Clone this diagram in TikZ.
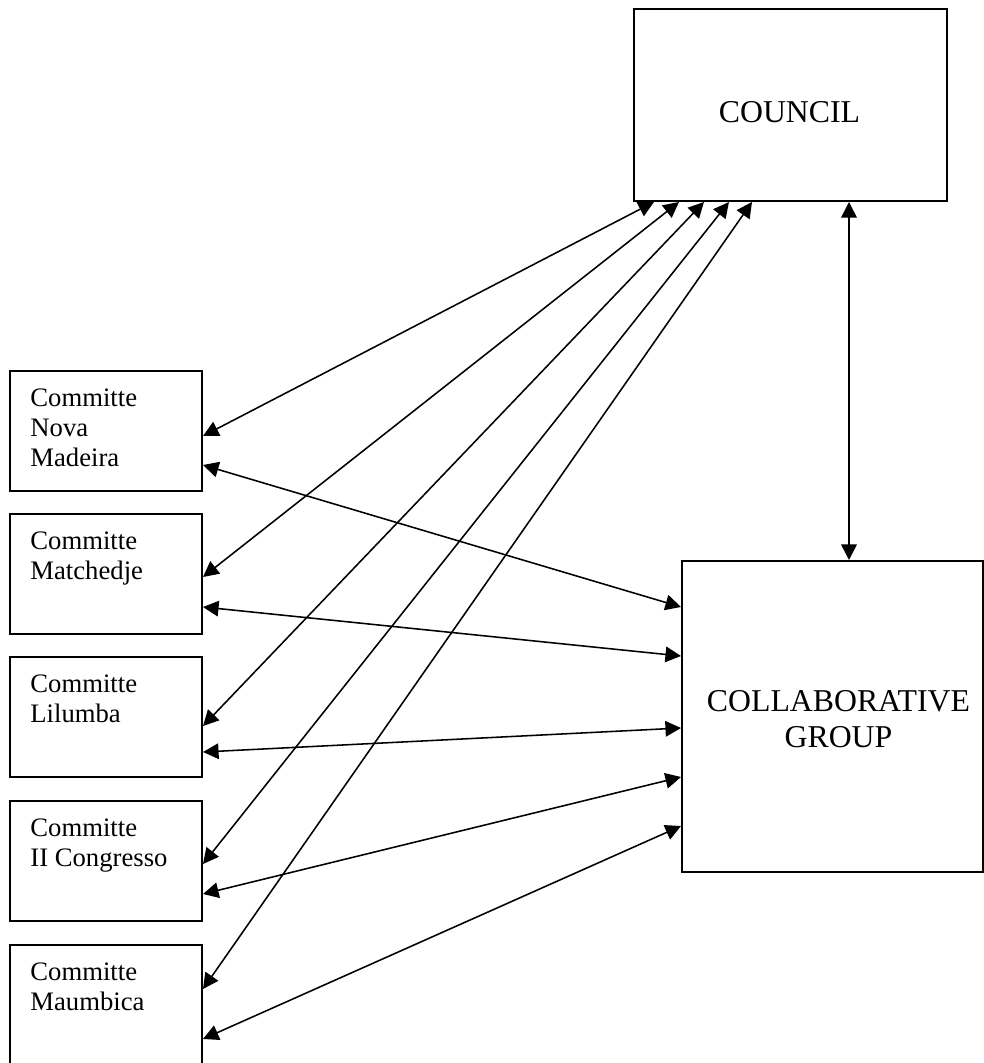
\documentclass[tikz,border=0pt]{standalone}
\usepackage{fontspec}
\setmainfont{Liberation Serif}
\usetikzlibrary{arrows.meta,calc}
\begin{document}
\begin{tikzpicture}[x=0.45pt,y=-0.45pt,
  box/.style={draw,line width=0.9pt,inner sep=0},
  cbox/.style={box,minimum width=86.4pt,minimum height=54pt},
  ctext/.style={anchor=north west,inner sep=0,align=left,font=\fontsize{12}{13.7}\selectfont},
  btext/.style={inner sep=0,align=center,font=\fontsize{14.3}{16.2}\selectfont},
  link/.style={line width=0.7pt,{Triangle[length=7pt,width=7pt]}-{Triangle[length=7pt,width=7pt]}}]
\useasboundingbox (0,0) rectangle (984,1063);
% main boxes
\node[box,minimum width=140.85pt,minimum height=86.4pt] (council) at (790.5,105) {};
\node[box,minimum width=135.45pt,minimum height=139.95pt] (collab) at (832.5,716.5) {};
\node[btext,anchor=base] (counciltxt) at ($(council.north)+(-1,114)$) {COUNCIL};
\node[btext,anchor=north] (collabtxt) at ($(collab.north)+(6,130)$) {COLLABORATIVE\\GROUP};
% committee boxes
\node[cbox] (nm)  at (106,431) {};
\node[cbox] (mat) at (106,574) {};
\node[cbox] (lil) at (106,717) {};
\node[cbox] (iic) at (106,861) {};
\node[cbox] (mau) at (106,1005) {};
\node[ctext] (nmtxt)  at ($(nm.north west)+(21,18)$)  {Committe\\Nova\\Madeira};
\node[ctext] (mattxt) at ($(mat.north west)+(21,18)$) {Committe\\Matchedje};
\node[ctext] (liltxt) at ($(lil.north west)+(21,18)$) {Committe\\Lilumba};
\node[ctext] (iictxt) at ($(iic.north west)+(21,18)$) {Committe\\II Congresso};
\node[ctext] (mautxt) at ($(mau.north west)+(21,18)$) {Committe\\Maumbica};
% council <-> committees
\draw[link] ($(nm.north east)+(0,66)$)  -- ($(council.south west)+(21,0)$);
\draw[link] ($(mat.north east)+(0,64)$) -- ($(council.south west)+(46,0)$);
\draw[link] ($(lil.north east)+(0,70)$) -- ($(council.south west)+(71,0)$);
\draw[link] ($(iic.north east)+(0,64)$) -- ($(council.south west)+(96,0)$);
\draw[link] ($(mau.north east)+(0,45)$) -- ($(council.south west)+(119,0)$);
% collaborative group <-> committees
\draw[link] ($(nm.north east)+(0,95)$)  -- ($(collab.north west)+(0,47)$);
\draw[link] ($(mat.north east)+(0,94)$) -- ($(collab.north west)+(0,96)$);
\draw[link] ($(lil.north east)+(0,96)$) -- ($(collab.north west)+(0,168)$);
\draw[link] ($(iic.north east)+(0,94)$) -- ($(collab.north west)+(0,217)$);
\draw[link] ($(mau.north east)+(0,95)$) -- ($(collab.north west)+(0,266)$);
% council <-> collaborative group
\draw[link] ($(council.south west)+(216,0)$) -- ($(collab.north west)+(168,0)$);
\end{tikzpicture}
\end{document}
